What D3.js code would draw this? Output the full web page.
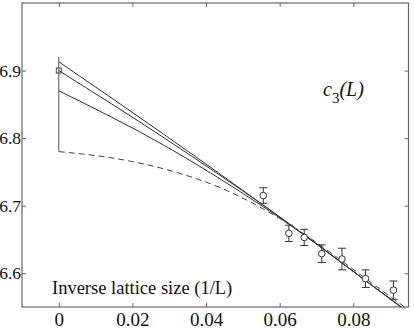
<!DOCTYPE html>
<html>
<head>
<meta charset="utf-8">
<script src="https://cdn.jsdelivr.net/npm/d3@7"></script>
<style>
  body { margin: 0; background: #fff; }
  text { font-family: "Liberation Serif", "DejaVu Serif", serif; fill: #111; }
</style>
</head>
<body>
<script>
// measured c3 on lattices L = 18,16,15,14,13,12,11
var invL = [1/18, 1/16, 1/15, 1/14, 1/13, 1/12, 1/11];
var c3 = [6.715, 6.659, 6.653, 6.629, 6.621, 6.592, 6.575];
var c3err = [0.0115, 0.012, 0.012, 0.013, 0.016, 0.013, 0.0135];

// extrapolated value at 1/L = 0
var extrap = { x: 0, y: 6.9, lo: 6.78, hi: 6.92 };

// fit curves
var fitX = [0, 0.0287, 0.0573, 0.093, 0.095];
var fitA = [6.913, 6.805, 6.694, 6.55, 6.542];
var fitB = [6.900, 6.800, 6.694, 6.55, 6.542];
var fitC = [6.870, 6.789, 6.692, 6.55, 6.542];

var dashX = [0, 0.0152, 0.0315, 0.0437, 0.0546, 0.060, 0.0909, 0.095];
var dashY = [6.780, 6.770, 6.750, 6.727, 6.698, 6.681, 6.562, 6.546];

var xTicks = [0, 0.02, 0.04, 0.06, 0.08];
var yTicks = [6.6, 6.7, 6.8, 6.9];

var width = 414, height = 330;
var pL = 22, pR = 408.5, pT = 3, pB = 307;

var svg = d3.select('body').append('svg')
    .attr('width', width)
    .attr('height', height);

var x = d3.scaleLinear().domain([-0.01, 0.095]).range([pL, pR]);
var y = d3.scaleLinear().domain([6.55, 7.0]).range([pB, pT]);

svg.append('clipPath').attr('id', 'plot')
  .append('rect')
    .attr('x', pL).attr('y', pT)
    .attr('width', pR - pL).attr('height', pB - pT);

// axes, ticks pointing inward on all four sides
var fmtX = function(d) { return d === 0 ? '0' : d3.format('.2f')(d); };

var gx = svg.append('g').attr('transform', 'translate(0,' + pB + ')')
    .call(d3.axisBottom(x).tickValues(xTicks).tickSize(-4).tickPadding(6).tickFormat(fmtX));
var gy = svg.append('g').attr('transform', 'translate(' + pL + ',0)')
    .call(d3.axisLeft(y).tickValues(yTicks).tickSize(-4).tickPadding(1).tickFormat(d3.format('.1f')));
var gt = svg.append('g').attr('transform', 'translate(0,' + pT + ')')
    .call(d3.axisTop(x).tickValues(xTicks).tickSize(-4).tickFormat(''));
var gr = svg.append('g').attr('transform', 'translate(' + pR + ',0)')
    .call(d3.axisRight(y).tickValues(yTicks).tickSize(-4).tickFormat(''));

[gx, gy, gt, gr].forEach(function(g) {
  g.select('.domain').remove();
  g.selectAll('line').attr('stroke', '#666');
  g.selectAll('text').attr('fill', '#111')
      .style('font-family', '"Liberation Serif", serif');
});
gx.selectAll('text').style('font-size', '19px');
gy.selectAll('text').style('font-size', '17.5px');

svg.append('rect')
    .attr('x', pL).attr('y', pT)
    .attr('width', pR - pL).attr('height', pB - pT)
    .attr('fill', 'none')
    .attr('stroke', '#666')
    .attr('stroke-width', 1.2);

var plot = svg.append('g').attr('clip-path', 'url(#plot)');

var line = d3.line()
    .x(function(d) { return x(d[0]); })
    .y(function(d) { return y(d[1]); })
    .curve(d3.curveMonotoneX);

[fitA, fitB, fitC].forEach(function(ys) {
  plot.append('path')
      .attr('d', line(d3.zip(fitX, ys)))
      .attr('fill', 'none')
      .attr('stroke', '#333')
      .attr('stroke-width', 1);
});

plot.append('path')
    .attr('d', line(d3.zip(dashX, dashY)))
    .attr('fill', 'none')
    .attr('stroke', '#444')
    .attr('stroke-width', 1)
    .attr('stroke-dasharray', '6,4');

// extrapolated point: bar without caps and a small square
plot.append('line')
    .attr('x1', x(extrap.x)).attr('x2', x(extrap.x))
    .attr('y1', y(extrap.lo)).attr('y2', y(extrap.hi))
    .attr('stroke', '#555');
plot.append('rect')
    .attr('x', x(extrap.x) - 2.5).attr('y', y(extrap.y) - 2.5)
    .attr('width', 5).attr('height', 5)
    .attr('fill', 'none').attr('stroke', '#444');

// data points with error bars
var pts = d3.range(invL.length).map(function(i) {
  return { x: invL[i], y: c3[i], e: c3err[i] };
});
var cap = 4;
var pg = plot.selectAll('g.pt').data(pts).enter().append('g')
    .attr('stroke', '#333').attr('fill', 'none');
pg.append('line')
    .attr('x1', function(d) { return x(d.x); })
    .attr('x2', function(d) { return x(d.x); })
    .attr('y1', function(d) { return y(d.y + d.e); })
    .attr('y2', function(d) { return y(d.y - d.e); });
pg.append('line')
    .attr('x1', function(d) { return x(d.x) - cap; })
    .attr('x2', function(d) { return x(d.x) + cap; })
    .attr('y1', function(d) { return y(d.y + d.e); })
    .attr('y2', function(d) { return y(d.y + d.e); });
pg.append('line')
    .attr('x1', function(d) { return x(d.x) - cap; })
    .attr('x2', function(d) { return x(d.x) + cap; })
    .attr('y1', function(d) { return y(d.y - d.e); })
    .attr('y2', function(d) { return y(d.y - d.e); });
pg.append('circle')
    .attr('cx', function(d) { return x(d.x); })
    .attr('cy', function(d) { return y(d.y); })
    .attr('r', 3.3)
    .attr('fill', '#fff');

// labels
svg.append('text')
    .attr('x', 52)
    .attr('y', 294)
    .style('font-size', '18.5px')
    .text('Inverse lattice size (1/L)');

var lab = svg.append('text')
    .attr('x', 323)
    .attr('y', 96)
    .style('font-size', '20px')
    .style('font-style', 'italic');
lab.append('tspan').text('c');
lab.append('tspan').attr('dy', 7).style('font-size', '15px').style('font-style', 'normal').text('3');
lab.append('tspan').attr('dy', -7).text('(L)');
</script>
</body>
</html>
